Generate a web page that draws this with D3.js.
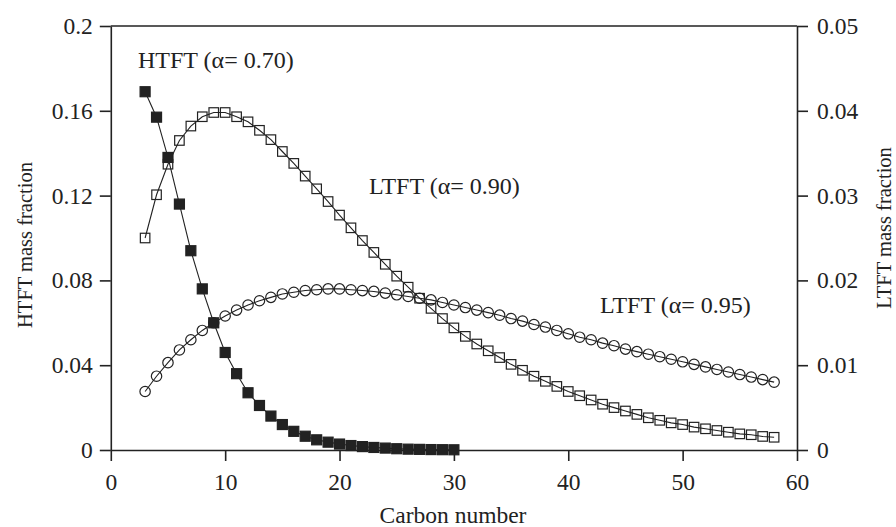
<!DOCTYPE html>
<html>
<head>
<meta charset="utf-8">
<script src="https://cdn.jsdelivr.net/npm/d3@7"></script>
<style>
  body { margin: 0; background: #fff; }
  svg { display: block; }
  text { font-family: "Liberation Serif", "Times New Roman", serif; fill: #222; }
</style>
</head>
<body>
<svg id="chart"></svg>
<script>
const width = 896;
const height = 527;

// carbon numbers
const htftCarbon = d3.range(3, 31);
const ltftCarbon = d3.range(3, 59);

// HTFT (alpha 0.70), left axis
const htftValues = [0.169, 0.157, 0.138, 0.116, 0.094, 0.076, 0.060, 0.046, 0.036, 0.027,
  0.021, 0.016, 0.012, 0.0088, 0.0065, 0.0048, 0.0037, 0.0028, 0.0021, 0.0016,
  0.0012, 0.0009, 0.0006, 0.0004, 0.0003, 0.0002, 0.00015, 0.0001];

// LTFT (alpha 0.90), right axis
const ltft90Values = [0.0250, 0.0301, 0.0337, 0.0365, 0.0382, 0.0393, 0.0398, 0.0398, 0.0393, 0.0387,
  0.0377, 0.0366, 0.0352, 0.0338, 0.0323, 0.0308, 0.0293, 0.0277, 0.0262, 0.0247,
  0.0233, 0.0219, 0.0205, 0.0192, 0.0179, 0.0167, 0.0155, 0.0144, 0.0134, 0.0125,
  0.0117, 0.0109, 0.0101, 0.0094, 0.0087, 0.0081, 0.0075, 0.0069, 0.0064, 0.0059,
  0.0054, 0.0050, 0.0046, 0.0042, 0.0038, 0.0035, 0.0032, 0.0030, 0.0027, 0.0025,
  0.0023, 0.0021, 0.0019, 0.0018, 0.0016, 0.0015];

// LTFT (alpha 0.95), right axis
const ltft95Values = [0.0069, 0.0087, 0.0103, 0.0118, 0.0130, 0.0141, 0.0150, 0.0158, 0.0165, 0.0171,
  0.0176, 0.0180, 0.0184, 0.0186, 0.0188, 0.0189, 0.0190, 0.0190, 0.0189, 0.0188,
  0.0187, 0.0185, 0.0183, 0.0181, 0.0179, 0.0177, 0.0174, 0.0171, 0.0168, 0.0165,
  0.0162, 0.0159, 0.0155, 0.0152, 0.0148, 0.0145, 0.0141, 0.0137, 0.0133, 0.0130,
  0.0126, 0.0123, 0.0119, 0.0116, 0.0113, 0.0110, 0.0107, 0.0104, 0.0101, 0.0098,
  0.0095, 0.0092, 0.0089, 0.0086, 0.0083, 0.0080];

const xTicks = [0, 10, 20, 30, 40, 50, 60];
const leftTicks = [0, 0.04, 0.08, 0.12, 0.16, 0.2];
const rightTicks = [0, 0.01, 0.02, 0.03, 0.04, 0.05];

const ink = "#222";

const svg = d3.select("#chart").attr("width", width).attr("height", height);

const x = d3.scaleLinear().domain([0, 60]).range([110.8, 797]);
const yLeft = d3.scaleLinear().domain([0, 0.2]).range([450, 26]);
const yRight = d3.scaleLinear().domain([0, 0.05]).range([450, 26]);

const fmt = (d) => (d === 0 ? "0" : String(+d.toFixed(2)));

// axes
const gx = svg.append("g").attr("transform", "translate(0,450)")
  .call(d3.axisBottom(x).tickValues(xTicks).tickSize(11).tickSizeOuter(0).tickPadding(12).tickFormat(fmt));
const gl = svg.append("g").attr("transform", "translate(110.8,0)")
  .call(d3.axisLeft(yLeft).tickValues(leftTicks).tickSize(11).tickSizeOuter(0).tickPadding(7).tickFormat(fmt));
const gr = svg.append("g").attr("transform", "translate(797,0)")
  .call(d3.axisRight(yRight).tickValues(rightTicks).tickSize(11).tickSizeOuter(0).tickPadding(9).tickFormat(fmt));

[gx, gl, gr].forEach((g) => {
  g.selectAll("path, line").attr("stroke", ink).attr("stroke-width", 1.6);
  g.selectAll("text").attr("font-size", 23.5).attr("fill", ink)
    .style("font-family", '"Liberation Serif", "Times New Roman", serif');
});

// top frame
svg.append("line")
  .attr("x1", x(0)).attr("x2", x(60))
  .attr("y1", yLeft(0.2)).attr("y2", yLeft(0.2))
  .attr("stroke", ink).attr("stroke-width", 1.6);

// series
const line = (xs, ys, yScale) =>
  d3.line().x((d, i) => x(xs[i])).y((d) => yScale(d))(ys);

function drawSeries(xs, ys, yScale, shape, filled) {
  const g = svg.append("g");
  g.append("path")
    .attr("d", line(xs, ys, yScale))
    .attr("fill", "none").attr("stroke", ink).attr("stroke-width", 1.1);
  const pts = ys.map((v, i) => [x(xs[i]), yScale(v)]);
  if (shape === "square") {
    const s = filled ? 10 : 9.5;
    g.selectAll("rect").data(pts).enter().append("rect")
      .attr("x", (d) => d[0] - s / 2).attr("y", (d) => d[1] - s / 2)
      .attr("width", s).attr("height", s)
      .attr("fill", filled ? ink : "none")
      .attr("stroke", ink).attr("stroke-width", 1.2);
  } else {
    g.selectAll("circle").data(pts).enter().append("circle")
      .attr("cx", (d) => d[0]).attr("cy", (d) => d[1]).attr("r", 5.2)
      .attr("fill", "none").attr("stroke", ink).attr("stroke-width", 1.2);
  }
}

drawSeries(ltftCarbon, ltft95Values, yRight, "circle", false);
drawSeries(ltftCarbon, ltft90Values, yRight, "square", false);
drawSeries(htftCarbon, htftValues, yLeft, "square", true);

// annotations
const notes = [
  { t: "HTFT (\u03b1= 0.70)", px: 138, py: 68 },
  { t: "LTFT (\u03b1= 0.90)", px: 369, py: 194 },
  { t: "LTFT (\u03b1= 0.95)", px: 600, py: 313 }
];
svg.selectAll(".note").data(notes).enter().append("text")
  .attr("class", "note")
  .attr("x", (d) => d.px).attr("y", (d) => d.py)
  .attr("font-size", 24)
  .text((d) => d.t);

// axis titles
svg.append("text")
  .attr("x", 453).attr("y", 523)
  .attr("text-anchor", "middle").attr("font-size", 23.5)
  .text("Carbon number");
svg.append("text")
  .attr("transform", "translate(32,245) rotate(-90)")
  .attr("text-anchor", "middle").attr("font-size", 20.5)
  .text("HTFT mass fraction");
svg.append("text")
  .attr("transform", "translate(891,228) rotate(-90)")
  .attr("text-anchor", "middle").attr("font-size", 20.5)
  .text("LTFT mass fraction");
</script>
</body>
</html>
